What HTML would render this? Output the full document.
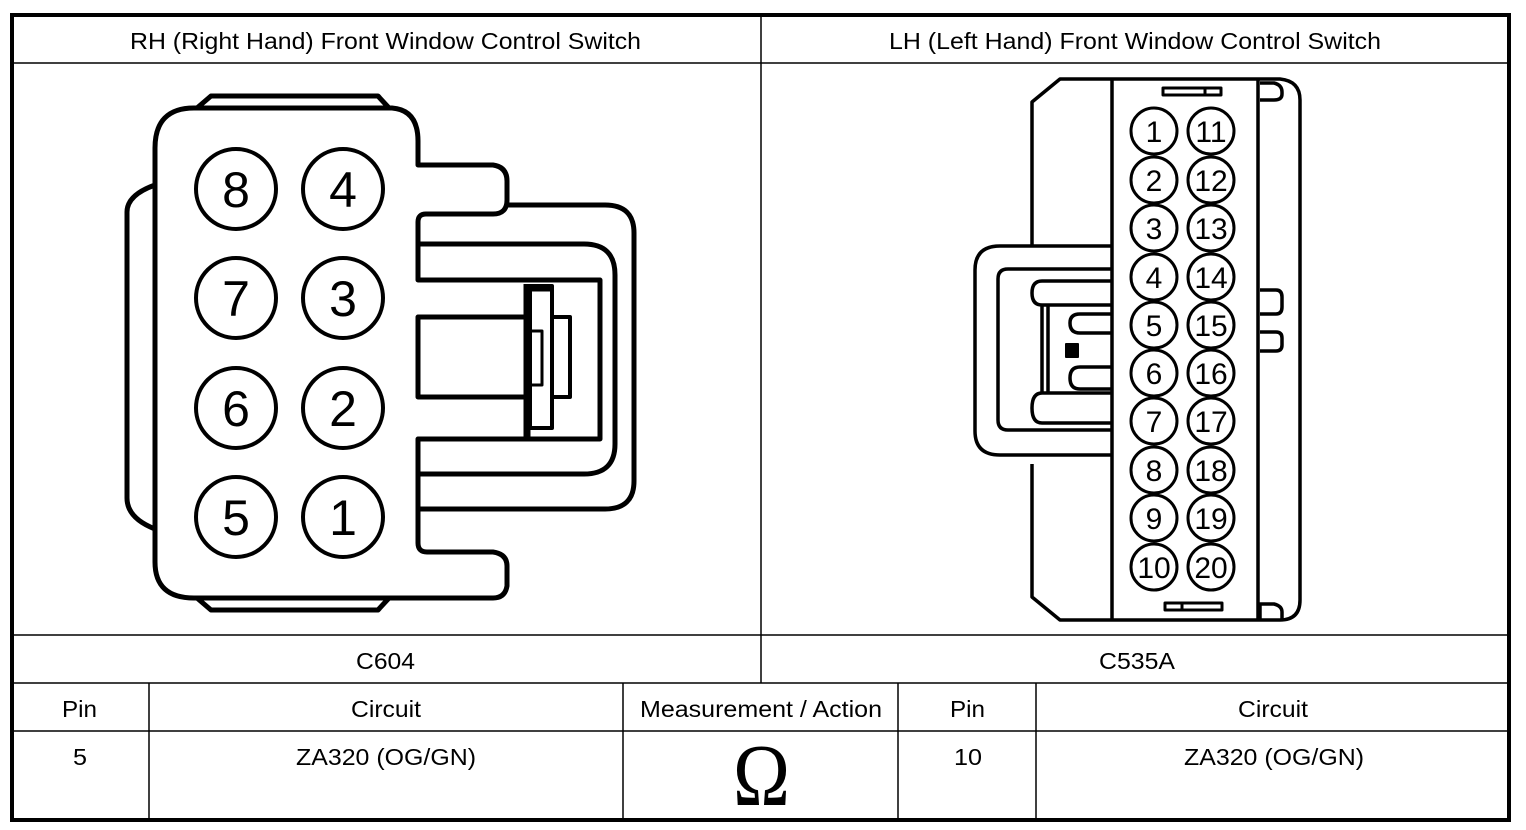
<!DOCTYPE html>
<html><head><meta charset="utf-8"><style>
html,body{margin:0;padding:0;background:#fff;}
svg{display:block;}
text{font-family:"Liberation Sans",sans-serif;fill:#000;}
</style></head><body>
<svg width="1526" height="830" viewBox="0 0 1526 830" xmlns="http://www.w3.org/2000/svg">
<rect x="0" y="0" width="1526" height="830" fill="#fff"/>
<g stroke="#000" stroke-width="1.5" fill="none">
<line x1="12" y1="63" x2="1510" y2="63"/>
<line x1="12" y1="635" x2="1510" y2="635"/>
<line x1="12" y1="683" x2="1510" y2="683"/>
<line x1="12" y1="731" x2="1510" y2="731"/>
<line x1="761" y1="15" x2="761" y2="683"/>
<line x1="149" y1="683" x2="149" y2="820"/>
<line x1="623" y1="683" x2="623" y2="820"/>
<line x1="898" y1="683" x2="898" y2="820"/>
<line x1="1036" y1="683" x2="1036" y2="820"/>
</g>
<rect x="12" y="15" width="1497" height="805" fill="none" stroke="#000" stroke-width="4"/>
<g font-size="23">
<text x="130" y="49" textLength="511" lengthAdjust="spacingAndGlyphs">RH (Right Hand) Front Window Control Switch</text>
<text x="889" y="49" textLength="492" lengthAdjust="spacingAndGlyphs">LH (Left Hand) Front Window Control Switch</text>
<text x="356" y="669" textLength="59" lengthAdjust="spacingAndGlyphs">C604</text>
<text x="1099" y="669" textLength="76" lengthAdjust="spacingAndGlyphs">C535A</text>
<text x="62" y="717" textLength="35" lengthAdjust="spacingAndGlyphs">Pin</text>
<text x="351" y="717" textLength="70" lengthAdjust="spacingAndGlyphs">Circuit</text>
<text x="640" y="717" textLength="242" lengthAdjust="spacingAndGlyphs">Measurement / Action</text>
<text x="950" y="717" textLength="35" lengthAdjust="spacingAndGlyphs">Pin</text>
<text x="1238" y="717" textLength="70" lengthAdjust="spacingAndGlyphs">Circuit</text>
<text x="73" y="765" textLength="14" lengthAdjust="spacingAndGlyphs">5</text>
<text x="296" y="765" textLength="180" lengthAdjust="spacingAndGlyphs">ZA320 (OG/GN)</text>
<text x="954" y="765" textLength="28" lengthAdjust="spacingAndGlyphs">10</text>
<text x="1184" y="765" textLength="180" lengthAdjust="spacingAndGlyphs">ZA320 (OG/GN)</text>
</g>
<text x="733" y="805" font-size="88" textLength="57" lengthAdjust="spacingAndGlyphs" style="font-family:'Liberation Serif',serif">Ω</text>

<!-- Left connector -->
<g stroke="#000" stroke-width="5" fill="none" stroke-linejoin="round">
<path d="M194 108 L392 108 Q418 110 418 141 L418 165 L493 165 Q507 167 507 181 L507 200 Q507 214 493 214 L426 214 Q418 214 418 222 L418 280 L600 280 L600 439 L418 439 L418 543 Q418 552 427 552 L493 552 Q507 554 507 566 L507 586 Q505 598 493 598 L194 598 Q155 598 155 562 L155 148 Q155 108 194 108 Z"/>
<path d="M418 244 L584 244 Q615 244 615 275 L615 444 Q615 474 584 474 L418 474"/>
<path d="M507 205 L605 205 Q634 205 634 233 L634 481 Q634 509 605 509 L418 509"/>
<path d="M155 185 Q127 195 127 212 L127 498 Q127 518 155 529"/>
<path d="M197 108 L211 96 L378 96 L389 108"/>
<path d="M197 598 L211 610 L378 610 L389 598"/>
<rect x="418" y="317" width="108" height="80"/>
<line x1="527" y1="284" x2="527" y2="439" stroke-width="7"/>
<rect x="530" y="286" width="22" height="142" stroke-width="4"/>
<line x1="530" y1="288" x2="552" y2="288" stroke-width="7"/>
<rect x="530" y="331" width="12" height="54" stroke-width="3"/>
<rect x="552" y="317" width="18" height="80" stroke-width="4"/>
</g>
<g stroke="#000" stroke-width="4" fill="#fff">
<circle cx="236" cy="189" r="40"/><circle cx="343" cy="189" r="40"/>
<circle cx="236" cy="298" r="40"/><circle cx="343" cy="298" r="40"/>
<circle cx="236" cy="408" r="40"/><circle cx="343" cy="408" r="40"/>
<circle cx="236" cy="517" r="40"/><circle cx="343" cy="517" r="40"/>
</g>
<g font-size="50" text-anchor="middle">
<text x="236" y="207">8</text><text x="343" y="207">4</text>
<text x="236" y="316">7</text><text x="343" y="316">3</text>
<text x="236" y="426">6</text><text x="343" y="426">2</text>
<text x="236" y="535">5</text><text x="343" y="535">1</text>
</g>

<!-- Right connector -->
<g stroke="#000" stroke-width="3.5" fill="none" stroke-linejoin="round">
<path d="M1112 79 L1060 79 L1032 102 L1032 246"/>
<path d="M1032 464 L1032 597 L1060 620 L1112 620"/>
<line x1="1112" y1="79" x2="1112" y2="620"/>
<line x1="1258" y1="79" x2="1258" y2="620"/>
<path d="M1112 79 L1280 79 Q1300 81 1300 100 L1300 600 Q1300 620 1280 620 L1112 620"/>
<path d="M1260 83 L1274 83 Q1282 85 1282 92 L1282 94 Q1282 100 1274 100 L1260 100"/>
<path d="M1260 620 L1260 604 L1274 604 Q1282 606 1282 612 L1282 620"/>
<path d="M1260 290 L1276 290 Q1282 290 1282 297 L1282 307 Q1282 314 1276 314 L1260 314"/>
<path d="M1260 332 L1276 332 Q1282 332 1282 338 L1282 345 Q1282 351 1276 351 L1260 351"/>
<rect x="1163" y="88" width="58" height="7" stroke-width="3"/>
<line x1="1205" y1="88" x2="1205" y2="95" stroke-width="3"/>
<rect x="1165" y="603" width="57" height="7" stroke-width="3"/>
<line x1="1182" y1="603" x2="1182" y2="610" stroke-width="3"/>
<path d="M1112 246 L1000 246 Q975 246 975 270 L975 431 Q975 455 1000 455 L1112 455"/>
<path d="M1112 269 L1008 269 Q998 269 998 279 L998 420 Q998 430 1008 430 L1112 430"/>
<path d="M1112 281 L1042 281 Q1032 281 1032 293 Q1032 305 1042 305 L1112 305"/>
<path d="M1112 393 L1042 393 Q1032 393 1032 408 Q1032 423 1042 423 L1112 423"/>
<line x1="1042" y1="305" x2="1042" y2="393"/>
<line x1="1048" y1="305" x2="1048" y2="393"/>
<path d="M1112 314 L1080 314 Q1070 314 1070 323 Q1070 333 1080 333 L1112 333"/>
<path d="M1112 367 L1080 367 Q1070 367 1070 378 Q1070 389 1080 389 L1112 389"/>
<rect x="1066" y="344" width="12" height="13" fill="#000" stroke-width="2"/>
</g>
<g stroke="#000" stroke-width="3" fill="#fff">
<circle cx="1154" cy="131" r="23"/><circle cx="1211" cy="131" r="23"/>
<circle cx="1154" cy="180" r="23"/><circle cx="1211" cy="180" r="23"/>
<circle cx="1154" cy="228" r="23"/><circle cx="1211" cy="228" r="23"/>
<circle cx="1154" cy="277" r="23"/><circle cx="1211" cy="277" r="23"/>
<circle cx="1154" cy="325" r="23"/><circle cx="1211" cy="325" r="23"/>
<circle cx="1154" cy="373" r="23"/><circle cx="1211" cy="373" r="23"/>
<circle cx="1154" cy="421" r="23"/><circle cx="1211" cy="421" r="23"/>
<circle cx="1154" cy="470" r="23"/><circle cx="1211" cy="470" r="23"/>
<circle cx="1154" cy="518" r="23"/><circle cx="1211" cy="518" r="23"/>
<circle cx="1154" cy="567" r="23"/><circle cx="1211" cy="567" r="23"/>
</g>
<g font-size="30" text-anchor="middle">
<text x="1154" y="142">1</text><text x="1211" y="142">11</text>
<text x="1154" y="191">2</text><text x="1211" y="191">12</text>
<text x="1154" y="239">3</text><text x="1211" y="239">13</text>
<text x="1154" y="288">4</text><text x="1211" y="288">14</text>
<text x="1154" y="336">5</text><text x="1211" y="336">15</text>
<text x="1154" y="384">6</text><text x="1211" y="384">16</text>
<text x="1154" y="432">7</text><text x="1211" y="432">17</text>
<text x="1154" y="481">8</text><text x="1211" y="481">18</text>
<text x="1154" y="529">9</text><text x="1211" y="529">19</text>
<text x="1154" y="578">10</text><text x="1211" y="578">20</text>
</g>
</svg>
</body></html>
